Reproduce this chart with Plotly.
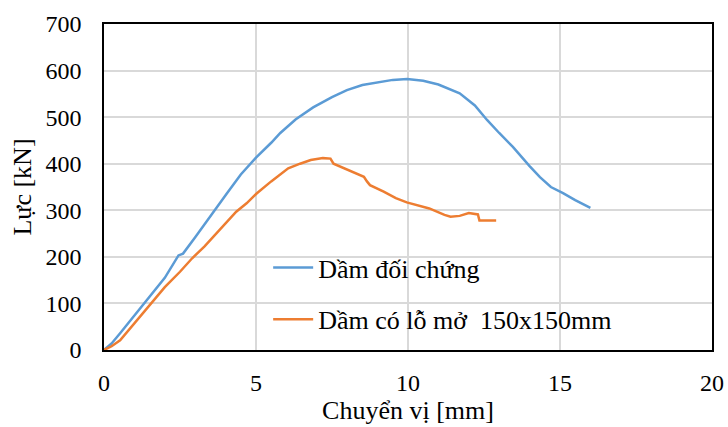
import plotly.graph_objects as go

# Data
blue_x = [0, 0.25, 0.53, 1.0, 1.4, 2.0, 2.45, 2.6, 3.0, 3.5, 4.04, 4.5, 5.0, 5.5, 5.8, 6.3, 6.88, 7.5, 7.99,
          8.5, 9.0, 9.5, 9.97, 10.5, 11.0, 11.7, 12.2, 12.6, 13.0, 13.45, 14.0, 14.34, 14.7, 15.1, 15.5, 16.0]
blue_y = [0, 14, 36, 74, 106, 155, 203, 207, 242, 288, 336, 377, 413, 445, 466, 495, 521, 543, 558,
          569, 575, 580, 582, 578, 570, 551, 525, 494, 466, 436, 395, 371, 350, 337, 322, 305]

orange_x = [0, 0.25, 0.53, 1.0, 1.51, 2.0, 2.5, 2.9, 3.3, 3.6, 4.0, 4.35, 4.69, 5.02, 5.5, 6.06, 6.45, 6.8,
            7.2, 7.45, 7.55, 8.0, 8.55, 8.65, 8.75, 9.2, 9.6, 9.96, 10.7, 11.2, 11.4, 11.7, 12.0, 12.3, 12.35, 12.9]
orange_y = [0, 8, 21, 57, 97, 135, 168, 197, 222, 243, 272, 297, 315, 336, 362, 390, 400, 408,
            412, 411, 400, 388, 372, 362, 354, 340, 326, 317, 304, 290, 286, 288, 294, 291, 278, 278]

names = ["Dầm đối chứng", "Dầm có lỗ mở  150x150mm"]
x_ticks = [0, 5, 10, 15, 20]
y_ticks = [0, 100, 200, 300, 400, 500, 600, 700]

FONT = "'Liberation Serif', 'Times New Roman', Times, serif"
FS = 24
FT = 26

fig = go.Figure()
fig.add_trace(go.Scatter(x=blue_x, y=blue_y, mode="lines", name=names[0], legendgroup="a",
                         line=dict(color="#5B9BD5", width=2.5)))
fig.add_trace(go.Scatter(x=orange_x, y=orange_y, mode="lines", name=names[1], legendgroup="b",
                         line=dict(color="#ED7D31", width=2.5)))

fig.update_layout(
    width=728, height=427,
    margin=dict(l=104, r=16, t=24, b=77, autoexpand=False),
    paper_bgcolor="white", plot_bgcolor="white",
    font=dict(family=FONT, size=FS, color="black"),
    legend=dict(x=0.27, y=0.325, xanchor="left", yanchor="top", itemwidth=40,
                bgcolor="rgba(0,0,0,0)", font=dict(family=FONT, size=FT, color="black"),
                tracegroupgap=15),
    xaxis=dict(range=[0, 20], tickvals=x_ticks, showgrid=True, gridcolor="#D9D9D9", gridwidth=1.5,
               zeroline=False, showline=True, linecolor="black", linewidth=1.5, mirror=True,
               ticks="", ticklabelstandoff=10, automargin=False,
               tickfont=dict(family=FONT, size=FS, color="black"),
               title=dict(text="Chuyển vị [mm]", font=dict(family=FONT, size=FT, color="black"), standoff=3)),
    yaxis=dict(range=[0, 700], tickvals=y_ticks, showgrid=True, gridcolor="#D9D9D9", gridwidth=1.5,
               zeroline=False, showline=True, linecolor="black", linewidth=1.5, mirror=True,
               ticks="", ticklabelstandoff=16, automargin=False,
               tickfont=dict(family=FONT, size=FS, color="black"),
               title=dict(text="Lực [kN]", font=dict(family=FONT, size=FT, color="black"), standoff=6)),
)

fig.write_html("out.html")
